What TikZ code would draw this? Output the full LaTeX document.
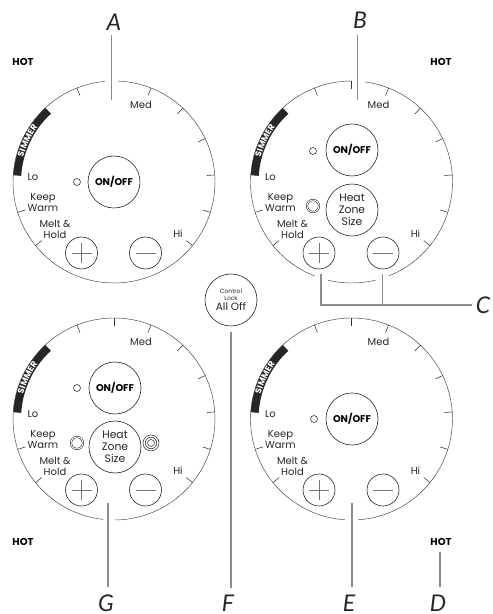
\documentclass[tikz,border=0pt]{standalone}
\usepackage{fontspec}
\usetikzlibrary{decorations.text}
\setmainfont{Poppins}
\newfontfamily\labfont{Lato}
\begin{document}
\begin{tikzpicture}[x=1pt,y=1pt,
  dialline/.style={draw=black!75,line width=0.45pt},
  tickline/.style={draw=black!80,line width=0.55pt},
  btn/.style={circle,draw=black!85,line width=0.6pt,minimum size=52pt,inner sep=0pt,align=center},
  smallbtn/.style={circle,draw=black!85,line width=0.6pt,minimum size=32pt,inner sep=0pt},
  dot/.style={circle,draw=black!85,line width=0.55pt,minimum size=7pt,inner sep=0pt},
  dial/.style={font=\fontsize{10}{11}\selectfont,text=black!85,inner sep=0pt},
  onoff/.style={font=\fontsize{9.8}{11}\selectfont\bfseries},
  hot/.style={font=\fontsize{10}{11}\selectfont\bfseries,inner sep=0pt},
  letter/.style={font=\fontsize{23}{25}\selectfont\labfont\itshape,text=black!85,inner sep=0pt},
  leader/.style={draw=black!45,line width=1.5pt},
  heat/.style={font=\fontsize{10.8}{12.2}\selectfont,text=black!85}]
\useasboundingbox (0,0) rectangle (493,614);
\newcommand{\dialface}[4]{% prefix, cx, cy, top tick list
  \begin{scope}[shift={(#2,#3)}]
    \foreach \t in {#4,68.5,47,25.5,4,-17.5,-39,111.5,133,154.5,176,197.5,219}{
      \draw[tickline] (\t:101) -- (\t:93);
    }
    \draw[black!85,line width=8pt] (176:97) arc[start angle=176,end angle=133,radius=97];
    \path[decorate,decoration={text along path,text align=center,
       text={|\fontsize{8.6}{9}\selectfont\bfseries\color{white}|SIMMER}}]
       (176:94) arc[start angle=176,end angle=133,radius=94];
    \node[dial] (#1lo) at (-81,5) {Lo};
    \node[dial,align=center] (#1keep) at (-71,-20.5) {Keep\\Warm};
    \node[dial,align=center] (#1melt) at (-59,-47.5) {Melt \&\\Hold};
    \node[dial] (#1med) at (27,77) {Med};
    \node[dial] (#1hi) at (64,-52) {Hi};
    \node[smallbtn] (#1plus) at (-32.5,-71) {};
    \node[smallbtn] (#1minus) at (31.5,-71) {};
    \draw[black!55,line width=0.7pt] (#1plus.center)+(-10,0) -- +(10,0) (#1plus.center)+(0,-10) -- +(0,10);
    \draw[black!55,line width=0.9pt] (#1minus.center)+(-10,0) -- +(10,0);
  \end{scope}
}
% dial A
\dialface{a}{114}{432}{133}
\draw[dialline] (114,432)++(87.7:101) arc[start angle=87.7,end angle=-264.9,radius=101];
\node[btn,onoff] (aon) at (114,432) {ON/OFF};
\node[dot] (aled) at (77,432) {};
% dial B
\dialface{b}{351.5}{432}{90}
\draw[dialline] (351.5,432)++(82.3:101) arc[start angle=82.3,end angle=-68.2,radius=101];
\draw[dialline] (351.5,432)++(-76:101) arc[start angle=-76,end angle=-103.5,radius=101];
\draw[dialline] (351.5,432)++(-111.2:101) arc[start angle=-111.2,end angle=-270.3,radius=101];
\node[btn,onoff] (bon) at (352,464) {ON/OFF};
\node[dot] (bled) at (313,463) {};
\node[btn,heat] (bheat) at (352,404) {Heat\\Zone\\Size};
\node[circle,draw=black!85,line width=0.55pt,minimum size=12pt,inner sep=0pt,double,double distance=0.9pt] (bring) at (313,408) {};
% dial G
\dialface{g}{114}{195}{90}
\draw[dialline] (114,195)++(-89.4:101) arc[start angle=-89.4,end angle=263.8,radius=101];
\node[btn,onoff] (gon) at (115,226) {ON/OFF};
\node[dot] (gled) at (77,226) {};
\node[btn,heat] (gheat) at (115,167) {Heat\\Zone\\Size};
\node[circle,draw=black!85,line width=0.55pt,minimum size=12pt,inner sep=0pt,double,double distance=0.9pt] (gring) at (77,171) {};
\node[circle,draw=black!85,line width=0.5pt,minimum size=16pt,inner sep=0pt] (gringb) at (151,171) {};
\node[circle,draw=black!85,line width=0.5pt,minimum size=11.5pt,inner sep=0pt] (gringc) at (151,171) {};
\node[circle,draw=black!85,line width=0.5pt,minimum size=7pt,inner sep=0pt] (gringd) at (151,171) {};
% dial E
\dialface{e}{351.5}{195}{90}
\draw[dialline] (351.5,195)++(-86.3:101) arc[start angle=-86.3,end angle=266.3,radius=101];
\node[btn,onoff] (eon) at (352,195) {ON/OFF};
\node[dot] (eled) at (314,195) {};
% control lock
\node[btn,font=\fontsize{6}{6.8}\selectfont,text=black!85] (lock) at (231,314) {Control\\Lock\\[1pt]{\fontsize{10.5}{11}\selectfont All Off}};
% HOT
\node[hot] (hota) at (23,552) {HOT};
\node[hot] (hotb) at (441,552) {HOT};
\node[hot] (hotg) at (23,72) {HOT};
\node[hot] (hotd) at (441,72) {HOT};
% letters
\node[letter] (la) at (114,592) {A};
\node[letter] (lb) at (360,594) {B};
\node[letter] (lc) at (483,309) {C};
\node[letter] (ld) at (438,10.5) {D};
\node[letter] (le) at (349,10.5) {E};
\node[letter] (lf) at (228,10.5) {F};
\node[letter] (lg) at (106,10.5) {G};
% leaders
\coordinate (a1) at (111.5,579); \coordinate (a2) at (111.5,514);
\draw[leader] (a1) -- (a2);
\coordinate (b1) at (357.5,579); \coordinate (b2) at (357.5,514);
\draw[leader] (b1) -- (b2);
\coordinate (c0) at (472,309); \coordinate (c1) at (321,309); \coordinate (c2) at (382.5,309);
\coordinate (c3) at (321,340); \coordinate (c4) at (382.5,340);
\draw[leader] (c0) -- (c1) -- (c3);
\draw[leader] (c2) -- (c4);
\coordinate (d1) at (440,27); \coordinate (d2) at (440,62);
\draw[leader] (d1) -- (d2);
\coordinate (e1) at (352,27); \coordinate (e2) at (352,111);
\draw[leader] (e1) -- (e2);
\coordinate (f1) at (231,26); \coordinate (f2) at (231,282);
\draw[leader] (f1) -- (f2);
\coordinate (g1) at (108,27); \coordinate (g2) at (108,111);
\draw[leader] (g1) -- (g2);
\end{tikzpicture}
\end{document}
